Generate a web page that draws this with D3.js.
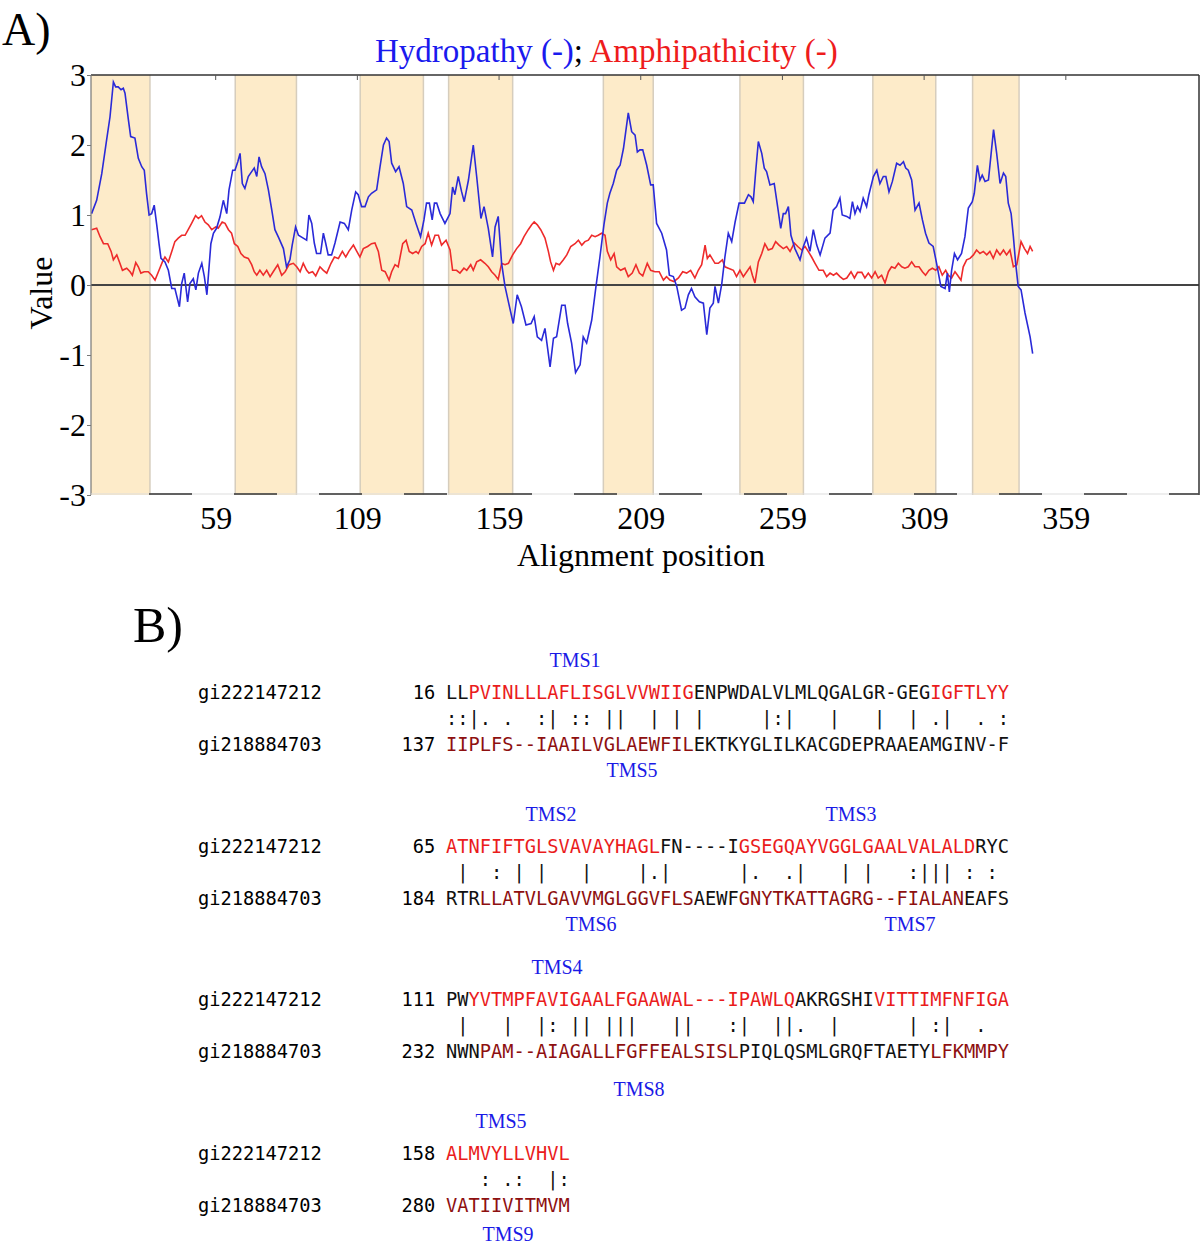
<!DOCTYPE html>
<html><head><meta charset="utf-8">
<script src="https://cdn.jsdelivr.net/npm/d3@7"></script>
<style>body{margin:0;background:#fff;} svg{display:block;}</style>
</head><body>
<svg id="chart" width="1200" height="1246"></svg>
<script>
// ---------- Panel A data ----------
const xTickValues = [59,109,159,209,259,309,359];
const yTickValues = [-3,-2,-1,0,1,2,3];
const tmsStart = [15,65.9,110,141.2,195.8,244,290.9,326.1];
const tmsEnd   = [35.8,87.5,132.3,163.8,213.4,266.4,313.1,342.5];

const hydroPos = [15.2,17.0,18.8,20.5,21.7,22.9,23.7,24.6,25.6,26.4,27.0,28.2,29.0,30.5,31.7,32.9,33.8,34.6,35.5,36.4,37.3,38.2,39.0,39.7,41.1,42.3,43.5,44.6,46.2,47.0,47.9,49.1,49.9,51.1,52.0,52.9,54.1,55.0,55.9,57.3,58.2,59.3,60.5,61.7,62.9,63.7,65.0,65.8,66.8,67.6,68.4,69.3,70.5,71.7,72.6,73.5,74.3,75.2,76.4,77.6,78.8,79.9,81.3,82.9,84.0,85.2,86.0,87.2,88.2,89.9,91.1,91.9,92.9,93.8,94.6,96.0,97.0,97.8,98.7,99.9,101.1,102.9,104.4,105.8,107.0,108.4,109.3,110.5,111.7,112.9,114.0,115.8,117.0,118.2,119.3,120.2,121.1,122.5,123.7,125.2,126.4,128.2,129.7,131.3,132.5,133.4,134.4,135.4,136.2,137.0,138.2,139.9,141.7,142.6,143.4,144.6,145.8,146.7,148.2,149.9,151.1,152.6,153.7,155.2,156.7,157.6,158.7,159.9,161.1,162.3,164.0,165.4,166.9,168.5,170.3,171.4,172.5,174.0,175.2,177.0,178.2,179.3,181.1,182.3,183.2,184.6,186.0,187.6,188.7,189.9,191.7,193.2,194.6,196.0,197.2,198.1,199.3,200.5,201.7,202.9,204.6,205.8,207.0,207.8,208.7,209.7,211.1,212.5,213.4,214.6,216.4,218.1,219.1,220.5,221.7,223.4,224.6,225.8,226.9,228.1,229.7,231.1,232.3,233.4,234.6,235.2,236.4,237.6,238.7,239.9,241.1,242.3,243.7,245.6,247.0,247.9,248.7,249.6,250.5,251.7,252.6,253.4,254.6,256.1,257.3,258.4,259.3,260.1,261.1,262.0,263.4,265.2,266.4,267.5,268.7,269.9,271.1,272.3,274.0,275.8,276.9,278.1,279.3,280.1,281.7,282.8,283.7,284.6,285.5,286.4,287.5,288.7,289.5,291.1,292.3,293.4,294.6,295.5,296.6,297.8,299.3,300.5,301.7,302.5,303.4,304.6,305.8,307.2,308.4,309.5,310.7,312.2,313.4,314.9,316.4,317.2,317.9,318.7,319.7,320.8,322.2,323.4,324.6,326.0,326.7,327.8,328.7,329.5,330.5,331.7,332.6,333.5,334.6,335.8,337.0,337.8,338.7,339.7,340.5,341.3,342.2,343.2,344.6,346.4,347.3];
const hydroVal = [1.02,1.21,1.59,2.07,2.40,2.90,2.83,2.83,2.79,2.81,2.74,2.36,2.12,2.10,1.81,1.69,1.64,1.31,1.00,1.02,1.14,0.86,0.59,0.38,0.33,0.21,-0.05,-0.05,-0.31,0.02,0.17,-0.24,0.02,0.09,-0.07,0.17,0.31,0.12,-0.14,0.59,0.74,0.81,0.97,1.21,1.02,1.36,1.64,1.64,1.76,1.88,1.45,1.38,1.55,1.62,1.67,1.55,1.83,1.69,1.59,1.36,1.07,0.79,0.67,0.52,0.26,0.36,0.57,0.83,0.71,0.67,0.64,1.00,0.88,0.60,0.45,0.45,0.74,0.60,0.43,0.43,0.60,0.90,0.88,0.79,1.07,1.33,1.29,1.12,1.12,1.26,1.31,1.36,1.69,2.00,2.10,2.05,1.74,1.62,1.69,1.45,1.12,1.07,0.88,0.69,0.93,1.17,1.17,0.93,1.17,1.17,1.02,0.88,1.02,1.40,1.29,1.55,1.33,1.19,1.50,2.00,1.55,0.95,1.12,0.81,0.40,0.83,0.98,0.31,-0.02,-0.24,-0.55,-0.14,-0.31,-0.57,-0.55,-0.45,-0.74,-0.79,-0.62,-1.17,-0.76,-0.74,-0.29,-0.29,-0.55,-0.83,-1.25,-1.14,-0.74,-0.83,-0.50,-0.02,0.40,0.86,1.17,1.31,1.45,1.64,1.71,1.95,2.46,2.19,2.14,1.90,1.93,1.93,1.71,1.43,1.43,0.88,0.74,0.50,0.14,0.12,-0.02,-0.36,-0.33,-0.14,-0.05,-0.17,-0.24,-0.26,-0.71,-0.33,-0.26,-0.02,-0.26,0.02,0.40,0.74,0.62,0.90,1.17,1.17,1.29,1.26,1.19,1.64,2.05,1.88,1.67,1.62,1.43,1.45,1.12,0.81,1.02,1.02,1.12,0.71,0.52,0.36,0.55,0.67,0.48,0.79,0.57,0.43,0.67,0.74,1.07,1.12,1.24,1.00,0.98,0.95,1.19,1.02,1.12,1.05,1.24,1.12,1.29,1.55,1.64,1.45,1.55,1.55,1.33,1.48,1.74,1.71,1.76,1.67,1.64,1.50,1.07,1.17,0.93,0.74,0.60,0.55,0.31,-0.02,-0.05,0.17,-0.10,0.21,0.45,0.36,0.45,0.69,1.10,1.19,1.31,1.71,1.50,1.57,1.48,1.50,1.86,2.22,1.88,1.45,1.60,1.55,1.17,1.02,0.69,0.31,-0.02,-0.07,-0.40,-0.74,-0.98];

const amphiPos = [15.2,17.0,18.2,19.4,20.9,22.1,22.9,24.1,25.2,26.1,27.6,28.8,29.6,30.8,31.7,32.6,33.8,35.2,36.4,37.6,39.0,40.2,41.1,42.3,43.5,44.6,45.8,47.0,48.2,49.3,50.5,51.9,52.9,54.0,55.2,56.4,57.6,59.0,59.9,61.3,62.3,63.5,64.6,65.6,66.8,67.9,69.1,70.5,71.7,72.6,73.5,74.6,75.8,77.0,78.2,79.3,80.9,82.3,83.5,84.9,86.4,87.6,88.8,89.9,91.1,91.9,93.2,94.3,95.8,97.0,98.2,99.7,100.9,102.3,103.7,104.9,106.0,107.6,108.8,109.9,111.1,112.6,114.0,115.2,116.4,117.6,118.8,120.2,121.1,122.3,123.4,125.0,126.2,127.3,128.5,129.7,130.5,131.7,132.9,134.0,135.2,136.4,137.6,138.7,140.3,141.7,142.6,144.0,145.2,146.6,147.6,149.0,149.9,151.1,152.5,154.0,155.2,156.4,157.6,158.7,159.9,161.1,162.3,163.8,165.2,166.6,167.8,169.3,170.5,171.4,172.5,173.7,175.2,176.4,177.2,178.2,179.1,180.3,181.7,182.9,184.3,185.8,187.0,188.2,189.3,190.5,191.7,192.9,194.0,195.2,196.4,197.2,198.4,199.6,200.5,201.9,203.4,204.6,206.0,207.3,208.5,209.7,211.3,212.5,214.0,215.5,217.0,218.1,219.3,220.7,222.3,223.8,225.2,226.6,228.1,229.3,230.5,231.7,232.5,233.4,235.2,236.4,237.8,238.7,239.9,241.7,242.8,244.0,245.2,246.4,247.6,248.4,249.3,250.5,251.7,252.8,254.0,255.4,256.6,257.8,259.3,260.5,261.7,263.2,264.4,265.8,267.0,268.1,269.3,270.5,271.9,273.4,274.6,275.8,277.0,278.1,279.3,280.5,281.7,283.2,284.4,285.5,287.0,288.1,289.3,290.5,291.7,292.8,294.0,295.2,296.4,297.5,298.7,299.9,301.1,302.2,303.4,304.6,305.8,307.2,308.4,309.5,310.7,311.9,313.1,314.2,315.4,316.6,317.5,318.7,319.9,320.8,322.0,322.8,324.0,325.2,326.4,327.5,328.7,329.9,331.1,332.2,333.4,334.6,335.8,337.0,338.1,339.3,340.5,341.7,343.2,344.4,345.5,346.4,347.3];
const amphiVal = [0.79,0.81,0.69,0.59,0.59,0.48,0.36,0.43,0.31,0.21,0.24,0.19,0.14,0.32,0.26,0.17,0.19,0.19,0.14,0.07,0.21,0.33,0.40,0.33,0.48,0.62,0.67,0.71,0.71,0.79,0.88,0.99,0.95,0.99,0.90,0.86,0.79,0.83,0.81,0.90,0.88,0.79,0.74,0.59,0.55,0.45,0.40,0.38,0.29,0.19,0.14,0.21,0.14,0.21,0.12,0.19,0.29,0.14,0.19,0.29,0.31,0.26,0.19,0.31,0.21,0.17,0.19,0.13,0.26,0.21,0.17,0.31,0.40,0.38,0.48,0.40,0.48,0.57,0.48,0.40,0.52,0.55,0.59,0.60,0.48,0.21,0.19,0.07,0.19,0.29,0.26,0.59,0.64,0.48,0.45,0.48,0.45,0.55,0.59,0.74,0.57,0.71,0.71,0.57,0.64,0.50,0.21,0.21,0.17,0.24,0.21,0.29,0.21,0.33,0.36,0.31,0.26,0.19,0.14,0.08,0.31,0.29,0.31,0.43,0.52,0.59,0.69,0.79,0.86,0.90,0.86,0.79,0.67,0.48,0.33,0.21,0.31,0.29,0.36,0.43,0.55,0.59,0.64,0.57,0.62,0.64,0.71,0.69,0.71,0.74,0.71,0.48,0.36,0.45,0.26,0.21,0.24,0.12,0.17,0.29,0.17,0.13,0.31,0.21,0.19,0.19,0.07,0.12,0.07,0.05,0.10,0.19,0.17,0.21,0.10,0.21,0.29,0.57,0.38,0.43,0.31,0.31,0.36,0.26,0.24,0.21,0.12,0.21,0.12,0.19,0.26,0.14,0.03,0.33,0.45,0.59,0.50,0.52,0.62,0.57,0.52,0.55,0.48,0.60,0.55,0.50,0.55,0.48,0.40,0.31,0.21,0.21,0.12,0.17,0.14,0.17,0.12,0.08,0.10,0.19,0.10,0.18,0.18,0.10,0.17,0.10,0.19,0.10,0.14,0.03,0.19,0.26,0.24,0.31,0.26,0.24,0.26,0.33,0.26,0.26,0.19,0.14,0.21,0.24,0.21,0.26,0.14,0.21,0.14,0.10,0.19,0.14,0.07,0.26,0.36,0.38,0.43,0.50,0.45,0.48,0.43,0.48,0.38,0.50,0.43,0.50,0.43,0.50,0.26,0.29,0.62,0.52,0.45,0.55,0.48];

// ---------- Panel B data ----------
const seqNames = ["gi222147212","gi218884703"];
const startsTop = [16,65,111,158];
const startsBottom = [137,184,232,280];
const seqTop = [
  "LLPVINLLLAFLISGLVVWIIGENPWDALVLMLQGALGR-GEGIGFTLYY",
  "ATNFIFTGLSVAVAYHAGLFN----IGSEGQAYVGGLGAALVALALDRYC",
  "PWYVTMPFAVIGAALFGAAWAL---IPAWLQAKRGSHIVITTIMFNFIGA",
  "ALMVYLLVHVL"];
const seqBottom = [
  "IIPLFS--IAAILVGLAEWFILEKTKYGLILKACGDEPRAAEAMGINV-F",
  "RTRLLATVLGAVVMGLGGVFLSAEWFGNYTKATTAGRG--FIALANEAFS",
  "NWNPAM--AIAGALLFGFFEALSISLPIQLQSMLGRQFTAETYLFKMMPY",
  "VATIIVITMVM"];
const tmsColsTop = [[[2,21],[43,49]], [[0,18],[26,46]], [[2,30],[38,49]], [[0,10]]];
const tmsColsBottom = [[[0,21]], [[3,21],[26,45]], [[3,25],[43,49]], [[0,10]]];
const matchMarks = [
  {"|":[2,9,14,15,18,20,22,28,30,34,38,41,44], ":":[0,1,8,11,12,29,49], ".":[3,5,43,47]},
  {"|":[1,6,8,12,17,19,26,31,35,37,42,43,44], ":":[4,41,46,48], ".":[18,27,30]},
  {"|":[1,5,8,11,12,14,15,16,20,21,26,29,30,34,41,44], ":":[9,25,43], ".":[31,47]},
  {"|":[9], ":":[3,6,10], ".":[5]}];
const tmsLabelsTop = [["TMS1"],["TMS2","TMS3"],["TMS4"],["TMS5"]];
const tmsLabelsBottom = [["TMS5"],["TMS6","TMS7"],["TMS8"],["TMS9"]];
const tmsLabelTopX = [[575],[551,851],[557],[501]];
const tmsLabelBottomX = [[632],[591,910],[639],[508]];

// ---------- Drawing ----------
const svg = d3.select("#chart");
const serif = "'Liberation Serif','Times New Roman',serif";
const L = 91, R = 1199, T = 75, B = 495;
const x = d3.scaleLinear().domain([15, 406]).range([L, R]);
const y = d3.scaleLinear().domain([-3, 3]).range([B, T]);

// bands
const bands = tmsStart.map((s,i)=>({s, e: tmsEnd[i]}));
svg.append("g").selectAll("rect").data(bands).join("rect")
  .attr("x", d=>x(d.s)).attr("y", T).attr("width", d=>x(d.e)-x(d.s)).attr("height", B-T)
  .attr("fill", "#fdebc9");
svg.append("g").selectAll("line").data(bands.flatMap(d=>[d.s,d.e]).filter(v=>v>15.5)).join("line")
  .attr("x1", d=>x(d)).attr("x2", d=>x(d)).attr("y1", T).attr("y2", B)
  .attr("stroke", "#d6cdbd").attr("stroke-width", 1.5);

// zero line
svg.append("line").attr("x1", L).attr("x2", R).attr("y1", y(0)).attr("y2", y(0))
  .attr("stroke", "#444").attr("stroke-width", 2);

// lines
const lineGen = d3.line().x(d=>x(d[0])).y(d=>y(d[1]));
svg.append("path").datum(amphiPos.map((p,i)=>[p, amphiVal[i]]))
  .attr("d", lineGen).attr("fill","none").attr("stroke","#ee2b2b").attr("stroke-width",1.6);
svg.append("path").datum(hydroPos.map((p,i)=>[p, hydroVal[i]]))
  .attr("d", lineGen).attr("fill","none").attr("stroke","#2a2ad8").attr("stroke-width",1.6);

// frame
svg.append("line").attr("x1", L).attr("x2", R).attr("y1", T).attr("y2", T).attr("stroke","#333").attr("stroke-width",1.5);
svg.append("line").attr("x1", R).attr("x2", R).attr("y1", T).attr("y2", B).attr("stroke","#333").attr("stroke-width",1.5);
svg.append("line").attr("x1", L).attr("x2", L).attr("y1", T).attr("y2", B).attr("stroke","#777").attr("stroke-width",1.2);
svg.append("line").attr("x1", L).attr("x2", R).attr("y1", B-1).attr("y2", B-1).attr("stroke","#ddd").attr("stroke-width",1.2);
svg.append("line").attr("x1", 149).attr("x2", R).attr("y1", B-1).attr("y2", B-1)
  .attr("stroke","#333").attr("stroke-width",1.6).attr("stroke-dasharray","43 42");

// axes
const xAxis = d3.axisBottom(x).tickValues(xTickValues).tickSize(0).tickPadding(0);
const gx = svg.append("g").attr("transform", `translate(0,${B})`).call(xAxis);
gx.select(".domain").remove();
gx.selectAll("text").attr("font-family", serif).attr("font-size", 32).attr("fill","#000")
  .attr("y", 34).attr("dy", 0);
// small top ticks
svg.append("g").selectAll("line").data(xTickValues).join("line")
  .attr("x1", d=>x(d)).attr("x2", d=>x(d)).attr("y1", T).attr("y2", T+5).attr("stroke","#555");

const yAxis = d3.axisLeft(y).tickValues(yTickValues).tickSize(4).tickPadding(1).tickFormat(d3.format("d"));
const gy = svg.append("g").attr("transform", `translate(${L},0)`).call(yAxis);
gy.select(".domain").remove();
gy.selectAll("line").attr("stroke","#777");
gy.selectAll("text").attr("font-family", serif).attr("font-size", 32).attr("fill","#000").attr("dy","0.34em")
  .text(d => d < 0 ? "-" + Math.abs(d) : d);

// axis titles
svg.append("text").attr("x", 641).attr("y", 566).attr("text-anchor","middle")
  .attr("font-family", serif).attr("font-size", 32).text("Alignment position");
svg.append("text").attr("transform","translate(52,293) rotate(-90)").attr("text-anchor","middle")
  .attr("font-family", serif).attr("font-size", 32).text("Value");

// title
const title = svg.append("text").attr("x", 375).attr("y", 62).attr("font-family", serif).attr("font-size", 33);
title.append("tspan").attr("fill","#1a1aee").text("Hydropathy (-)");
title.append("tspan").attr("fill","#000").text(";");
title.append("tspan").attr("fill","#ee1c1c").text(" Amphipathicity (-)");

// panel letters
svg.append("text").attr("x", 2).attr("y", 45).attr("font-family", serif).attr("font-size", 46).text("A)");
svg.append("text").attr("x", 133).attr("y", 642).attr("font-family", serif).attr("font-size", 50).text("B)");

// ---------- Alignment ----------
const mono = "'DejaVu Sans Mono','Liberation Mono',monospace";
const cw = 11.26, seqX = 446, fs = 18.7;
const blockTop = [699, 853, 1006, 1160];
const rowGap = 25.5;
const colX = c => seqX + (c + 0.5) * cw;
const inRanges = (c, ranges) => ranges.some(r => c >= r[0] && c <= r[1]);
const bottomLabelOffset = [27, 27, 39, 30];

blockTop.forEach((yb, bi) => {
  const g = svg.append("g");
  const rows = [
    {name: seqNames[0], num: startsTop[bi], seq: seqTop[bi], ranges: tmsColsTop[bi], col: "#ea1c1c", y: yb},
    {name: seqNames[1], num: startsBottom[bi], seq: seqBottom[bi], ranges: tmsColsBottom[bi], col: "#8e1010", y: yb + 2*rowGap + 0.5}
  ];
  rows.forEach(r => {
    g.append("text").attr("x", 198).attr("y", r.y).attr("font-family", mono).attr("font-size", fs).text(r.name);
    g.append("text").attr("x", seqX - cw + 0.5).attr("y", r.y).attr("text-anchor","end")
      .attr("font-family", mono).attr("font-size", fs).text(r.num);
    g.append("g").selectAll("text").data(r.seq.split("").map((ch,c)=>({ch,c}))).join("text")
      .attr("x", d=>colX(d.c)).attr("y", r.y).attr("text-anchor","middle")
      .attr("font-family", mono).attr("font-size", fs)
      .attr("fill", d => inRanges(d.c, r.ranges) ? r.col : "#111")
      .text(d=>d.ch);
  });
  const marks = Object.entries(matchMarks[bi]).flatMap(([ch, cols]) => cols.map(c => ({ch, c})));
  g.append("g").selectAll("text").data(marks).join("text")
    .attr("x", d=>colX(d.c)).attr("y", yb + rowGap).attr("text-anchor","middle")
    .attr("font-family", mono).attr("font-size", fs).attr("fill","#111").text(d=>d.ch);
  tmsLabelsTop[bi].forEach((lab, k) => {
    g.append("text").attr("x", tmsLabelTopX[bi][k]).attr("y", yb - 32).attr("text-anchor","middle")
      .attr("font-family", serif).attr("font-size", 20).attr("fill","#1a1ae6").text(lab);
  });
  tmsLabelsBottom[bi].forEach((lab, k) => {
    g.append("text").attr("x", tmsLabelBottomX[bi][k]).attr("y", yb + 2*rowGap + bottomLabelOffset[bi]).attr("text-anchor","middle")
      .attr("font-family", serif).attr("font-size", 20).attr("fill","#1a1ae6").text(lab);
  });
});
</script>
</body></html>
